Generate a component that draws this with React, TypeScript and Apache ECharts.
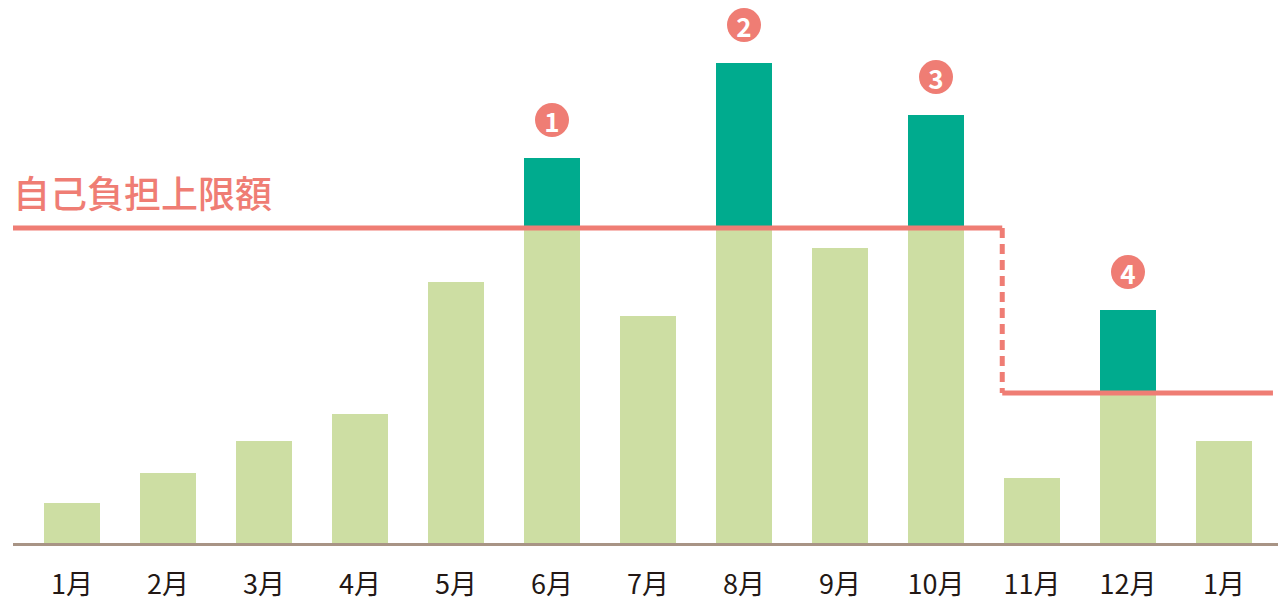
import React, { useEffect, useRef } from "react";
import * as echarts from "echarts";

const months = ["1月", "2月", "3月", "4月", "5月", "6月", "7月", "8月", "9月", "10月", "11月", "12月", "1月"];
const totals = [8.4, 14.4, 20.8, 26.2, 52.6, 77.4, 45.8, 96.4, 59.4, 86, 13.4, 47, 20.8];
const limits = [63.4, 63.4, 63.4, 63.4, 63.4, 63.4, 63.4, 63.4, 63.4, 63.4, 30.4, 30.4, 30.4];
const markers = ["", "", "", "", "", "1", "", "2", "", "3", "", "4", ""];
const limitTitle = "自己負担上限額";
// positions (in category-index units) of the limit line: start, step-down, end
const limitStart = -0.615;
const limitSwitch = 9.69;
const limitEnd = 12.51;
const axisEnd = 12.5625;
const limitHigh = 63.4;
const limitLow = 30.4;

const RED = "#ef7d74";
const LIGHT = "#cddea3";
const DARK = "#00ab8e";
const AXIS = "#a89485";

export default function App() {
  const ref = useRef<HTMLDivElement>(null);
  useEffect(() => {
    const chart = echarts.init(ref.current!, undefined, { renderer: "svg" });
    const base = totals.map((v, i) => Math.min(v, limits[i]));
    const excess = totals.map((v, i) => Math.max(0, +(v - limits[i]).toFixed(2)));
    const font = "'Noto Sans CJK JP', 'Noto Sans', sans-serif";
    const limitLine = (data: number[][], dashed: boolean) => ({
      type: "line",
      xAxisIndex: 1,
      yAxisIndex: 1,
      symbol: "none",
      clip: false,
      z: 5,
      lineStyle: { color: RED, width: 5, type: dashed ? [10, 6] : "solid", cap: "butt" },
      data,
    });
    chart.setOption({
      animation: false,
      grid: [
        { left: 24, right: 8, top: 0, bottom: 59 },
        { left: 13, right: 2, top: 0, bottom: 59 },
      ],
      xAxis: [
        {
          type: "category",
          data: months,
          axisLine: { show: false },
          axisTick: { show: false },
          axisLabel: { color: "#231815", fontSize: 27, fontFamily: font, margin: 24 },
        },
        {
          type: "value",
          gridIndex: 1,
          min: limitStart,
          max: axisEnd,
          show: false,
          axisLine: { show: true, lineStyle: { color: AXIS, width: 3 } },
        },
      ],
      yAxis: [
        { type: "value", min: 0, max: 109, show: false },
        { type: "value", gridIndex: 1, min: 0, max: 109, show: false },
      ],
      graphic: [
        {
          type: "line",
          shape: { x1: 13, y1: 544.5, x2: 1278, y2: 544.5 },
          style: { stroke: AXIS, lineWidth: 3 },
          z: 10,
        },
        {
          type: "text",
          left: 13,
          top: 173,
          style: { text: limitTitle, fill: RED, font: `500 37px ${font}` },
        },
      ],
      series: [
        {
          type: "bar",
          stack: "m",
          barWidth: 56,
          data: base,
          itemStyle: { color: LIGHT },
        },
        {
          type: "bar",
          stack: "m",
          barWidth: 56,
          data: excess.map((v, i) =>
            markers[i]
              ? {
                  value: v,
                  label: {
                    show: true,
                    position: "top",
                    distance: 21,
                    formatter: markers[i],
                    color: "#fff",
                    fontSize: 26,
                    fontWeight: "bold",
                    fontFamily: font,
                    backgroundColor: RED,
                    borderRadius: 17,
                    width: 34,
                    height: 34,
                    lineHeight: 34,
                    align: "center",
                  },
                }
              : v
          ),
          itemStyle: { color: DARK },
        },
        limitLine([[limitStart, limitHigh], [limitSwitch, limitHigh]], false),
        limitLine([[limitSwitch, limitHigh], [limitSwitch, limitLow]], true),
        limitLine([[limitSwitch, limitLow], [limitEnd, limitLow]], false),
      ],
    });
    return () => chart.dispose();
  }, []);
  return (
    <div
      ref={ref}
      style={{ position: "fixed", left: 0, top: 0, width: 1280, height: 604, background: "#fff" }}
    />
  );
}
